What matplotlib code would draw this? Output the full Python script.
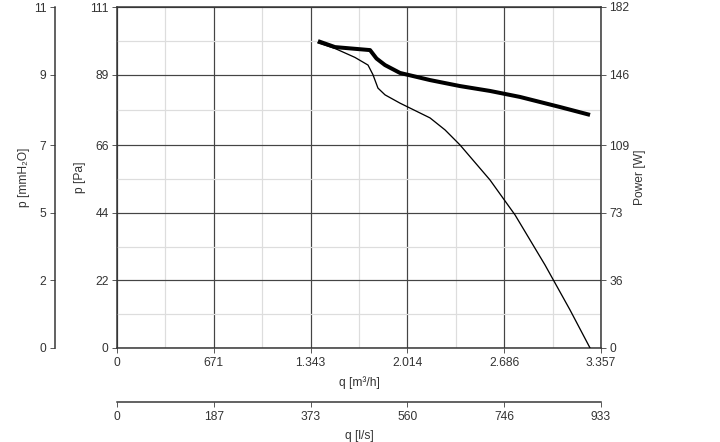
import matplotlib
matplotlib.use("Agg")
import matplotlib.pyplot as plt
import numpy as np

x_ticks = [0, 671, 1343, 2014, 2686, 3357]
x_labels = ["0", "671", "1.343", "2.014", "2.686", "3.357"]
ls_labels = ["0", "187", "373", "560", "746", "933"]
pa_ticks = [0, 22, 44, 66, 89, 111]
mm_labels = ["0", "2", "5", "7", "9", "11"]
pw_labels = ["0", "36", "73", "109", "146", "182"]

q_p = [1394, 1512, 1650, 1741, 1775, 1810, 1859, 1963, 2080, 2171, 2275, 2379, 2587, 2761, 2969, 3142, 3281]
p_pa = [99.3, 97.5, 94.6, 92.1, 89.0, 84.6, 82.4, 79.7, 77.0, 74.9, 71.0, 66.1, 54.7, 43.3, 27.0, 12.4, 0]
q_w = [1394, 1512, 1755, 1800, 1859, 1963, 2171, 2379, 2587, 2795, 3073, 3281]
p_w = [163.8, 160.6, 159.0, 154.5, 151.0, 146.8, 143.0, 139.8, 137.2, 134.0, 128.6, 124.4]

plt.rcParams['font.family'] = ['Liberation Sans', 'DejaVu Sans']
plt.rcParams['font.size'] = 12
fig = plt.figure(figsize=(10, 442/72), dpi=72)
ax = fig.add_axes([117/720, 94/442, 484/720, 341/442])
ax.set_xlim(0, 3357); ax.set_ylim(0, 111)
ax.set_xticks(x_ticks); ax.set_xticklabels(x_labels)
ax.set_yticks(pa_ticks)
minor_x = [(x_ticks[i]+x_ticks[i+1])/2 for i in range(5)]
minor_y = [(pa_ticks[i]+pa_ticks[i+1])/2 for i in range(5)]
ax.set_xticks(minor_x, minor=True); ax.set_yticks(minor_y, minor=True)
ax.grid(which='major', color='#444444', lw=1.2)
ax.grid(which='minor', color='#dddddd', lw=1.2)
ax.tick_params(which='minor', length=0)
ax.tick_params(which='major', length=5, color='#333333', labelcolor='#333333')
for s in ax.spines.values():
    s.set_linewidth(1.5); s.set_color('#333333')
ax.set_ylabel("p [Pa]", color='#333333')
ax.set_xlabel("q [m³/h]", color='#333333', labelpad=8)
ax.plot(q_p, p_pa, color='black', lw=1.3, zorder=5)

axw = ax.twinx()
axw.set_ylim(0, 182)
axw.set_yticks([t*182/111 for t in pa_ticks]); axw.set_yticklabels(pw_labels)
axw.tick_params(length=5, color='#333333', labelcolor='#333333')
axw.set_ylabel("Power [W]", color='#333333')
axw.plot(q_w, p_w, color='black', lw=4, zorder=5, solid_capstyle='butt', solid_joinstyle='round')
for s in axw.spines.values():
    s.set_visible(False)

axm = ax.twinx()
axm.set_ylim(0, 111)
axm.yaxis.set_ticks_position('left'); axm.yaxis.set_label_position('left')
axm.spines['left'].set_position(('outward', 62))
for k in ['right', 'top', 'bottom']:
    axm.spines[k].set_visible(False)
axm.spines['left'].set_color('#333333'); axm.spines['left'].set_linewidth(1.5)
axm.set_yticks(pa_ticks); axm.set_yticklabels(mm_labels)
axm.tick_params(length=5, color='#333333', labelcolor='#333333')
axm.set_ylabel("p [mmH₂O]", color='#333333')

axl = ax.twiny()
axl.set_xlim(0, 3357)
axl.xaxis.set_ticks_position('bottom'); axl.xaxis.set_label_position('bottom')
axl.spines['bottom'].set_position(('outward', 54))
for k in ['left', 'right', 'top']:
    axl.spines[k].set_visible(False)
axl.spines['bottom'].set_color('#333333'); axl.spines['bottom'].set_linewidth(1.5)
axl.set_xticks(x_ticks); axl.set_xticklabels(ls_labels)
axl.tick_params(length=5, color='#333333', labelcolor='#333333')
axl.set_xlabel("q [l/s]", color='#333333', labelpad=8)

fig.savefig("out.png", dpi=72)
